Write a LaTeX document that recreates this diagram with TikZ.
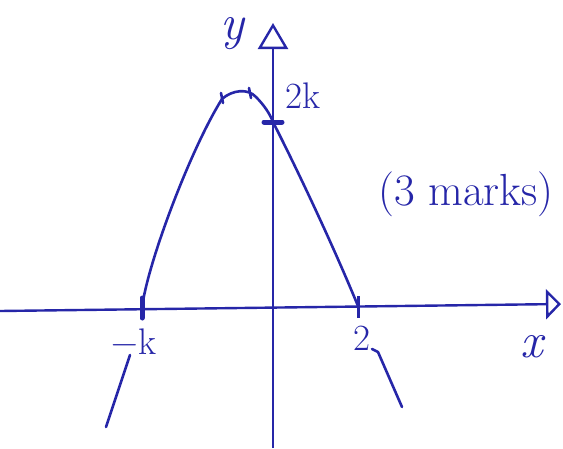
\documentclass[tikz,border=0pt]{standalone}
\usepackage{fontspec}
\usepackage{xcolor}
\usepackage{tikz}
\usetikzlibrary{arrows.meta, calc}
\definecolor{pen}{RGB}{38,38,168}
\tikzset{
  axis/.style={draw=pen, line width=2.4pt},
  curve/.style={draw=pen, line width=2.6pt, line cap=round, line join=round},
  tick/.style={draw=pen, line width=5pt, line cap=round},
  lbl/.style={text=pen, inner sep=0pt, font=\fontsize{37}{40}\selectfont},
  big/.style={text=pen, inner sep=0pt, font=\fontsize{50}{54}\selectfont\itshape},
  note/.style={text=pen, inner sep=0pt, font=\fontsize{45}{50}\selectfont}
}

\begin{document}
\begin{tikzpicture}[x=1pt, y=-1pt]
\useasboundingbox (0,0) rectangle (563,448);
% axes
\coordinate (ybot) at (273,448);
\coordinate (ytop) at (273,23);
\coordinate (xleft) at (0,311);
\coordinate (xright) at (561,304);
\draw[axis, -{Triangle[open, length=26pt, width=30pt, line width=2.4pt]}] (ybot) -- (ytop);
\draw[axis, -{Triangle[open, length=15pt, width=30pt, line width=2.4pt]}] (xleft) -- (xright);
% intercepts
\coordinate (negk) at (142,308);
\coordinate (two) at (358,306);
\coordinate (yint) at (273,122);
\draw[tick] ($(negk)+(0,-10)$) -- ($(negk)+(0,10)$);
\draw[pen, line width=3pt] ($(two)+(0,-10)$) -- ($(two)+(0,12)$);
\draw[tick] ($(yint)+(-9,0)$) -- ($(yint)+(9,0)$);
% the curve
\draw[curve] (negk) .. controls (147,265) and (190,150) .. (222,99)
  .. controls (232,90) and (248,88) .. (256,97)
  .. controls (264,105) and (270,114) .. (yint)
  .. controls (300,175) and (335,250) .. (two);
\draw[curve] (221,93) -- (223,103);
\draw[curve] (249,88) -- (251,98);
% tails below the axis
\draw[curve] (130,355) -- (106,427);
\draw[curve] (372,349) -- (378,352) -- (402,407);
% labels
\node[big] (ylab) at (232,34) {y};
\node[big] (xlab) at (532,347) {x};
\node[lbl] (kk) at (303,96) {2k};
\node[lbl] (mk) at (134,342) {−k};
\node[lbl] (tw) at (362,338) {2};
\node[note] (marks) at (466,194) {(3 marks)};
\end{tikzpicture}
\end{document}
